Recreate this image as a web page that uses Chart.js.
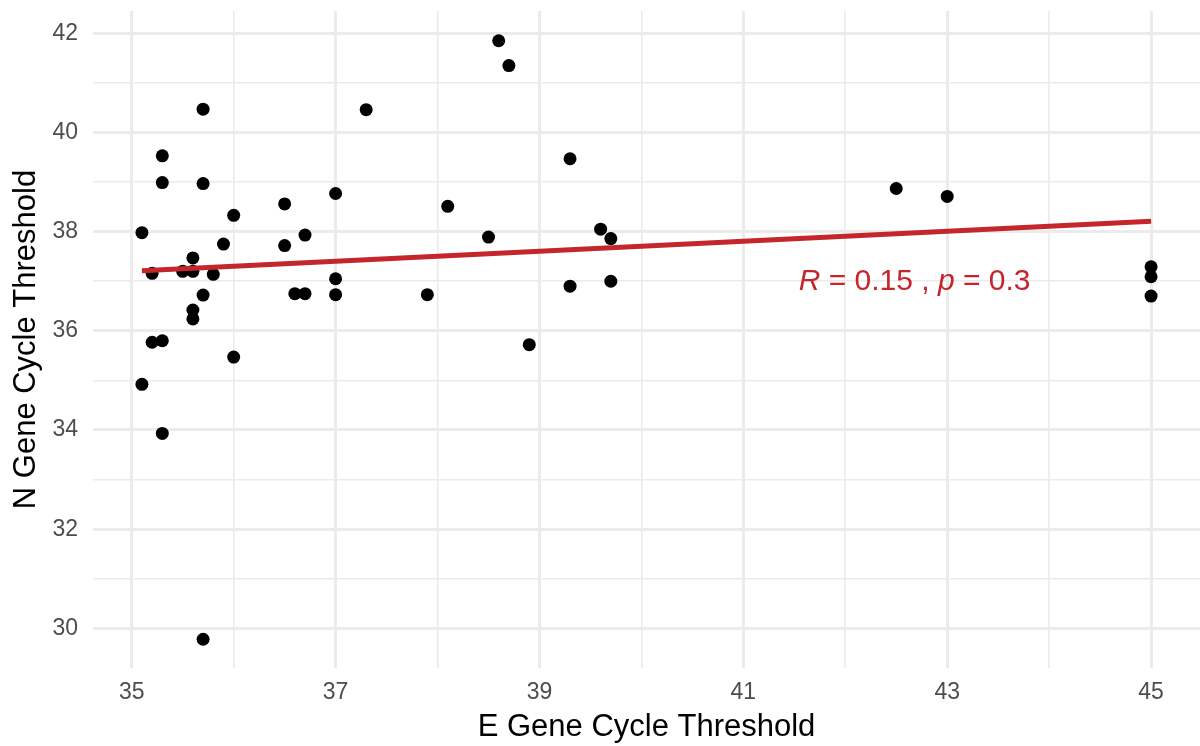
<!DOCTYPE html>
<html>
<head>
<meta charset="utf-8">
<script src="https://cdn.jsdelivr.net/npm/chart.js@4/dist/chart.umd.min.js"></script>
<style>
  html, body { margin: 0; padding: 0; background: #ffffff; }
  #wrap { width: 1200px; height: 746px; }
</style>
</head>
<body>
<div id="wrap"><canvas id="scatter" width="1200" height="746"></canvas></div>
<script>
  // E gene Ct (x) and N gene Ct (y), one entry per sample
  const eCt = [
    35.1, 35.1, 35.2, 35.2, 35.3, 35.3, 35.3, 35.3, 35.5, 35.6,
    35.6, 35.6, 35.6, 35.7, 35.7, 35.7, 35.7, 35.8, 35.9, 36.0,
    36.0, 36.5, 36.5, 36.6, 36.7, 36.7, 37.0, 37.0, 37.0, 37.3,
    37.9, 38.1, 38.5, 38.6, 38.7, 38.9, 39.3, 39.3, 39.6, 39.7,
    39.7, 42.5, 43.0, 45.0, 45.0, 45.0
  ];
  const nCt = [
    34.92, 37.98, 37.16, 35.77, 35.80, 39.53, 38.99, 33.93, 37.20, 37.20,
    37.47, 36.42, 36.24, 40.47, 38.97, 36.72, 29.78, 37.14, 37.75, 38.33,
    35.47, 38.56, 37.72, 36.75, 36.75, 37.93, 38.77, 37.05, 36.73, 40.46,
    36.73, 38.51, 37.89, 41.85, 41.35, 35.72, 39.47, 36.90, 38.05, 37.86,
    37.00, 38.87, 38.71, 37.29, 37.09, 36.70
  ];

  // linear fit at both ends
  const fitX = [35.1, 45.0];
  const fitY = [37.21, 38.21];

  const xGrid = [35, 36, 37, 38, 39, 40, 41, 42, 43, 44, 45];
  const xLabels = [35, 37, 39, 41, 43, 45];
  const yGrid = [30, 31, 32, 33, 34, 35, 36, 37, 38, 39, 40, 41, 42];
  const yLabels = [30, 32, 34, 36, 38, 40, 42];

  const statParts = [
    { text: 'R', italic: true },
    { text: ' = 0.15 , ', italic: false },
    { text: 'p', italic: true },
    { text: ' = 0.3', italic: false }
  ];
  const statAt = { x: 42.68, y: 36.83 };

  const FONT = "'Liberation Sans', Arial, sans-serif";
  const RED = '#C4262C';
  const GRID = '#EBEBEB';

  const points = eCt.map((x, i) => ({ x: x, y: nCt[i] }));
  const fitLine = fitX.map((x, i) => ({ x: x, y: fitY[i] }));

  const statLabel = {
    id: 'statLabel',
    afterDatasetsDraw(chart) {
      const ctx = chart.ctx;
      const px = chart.scales.x.getPixelForValue(statAt.x);
      const py = chart.scales.y.getPixelForValue(statAt.y);
      ctx.save();
      ctx.fillStyle = RED;
      ctx.textBaseline = 'alphabetic';
      ctx.textAlign = 'left';
      let total = 0;
      statParts.forEach(p => {
        ctx.font = (p.italic ? 'italic ' : '') + '30px ' + FONT;
        total += ctx.measureText(p.text).width;
      });
      let cx = px - total / 2;
      statParts.forEach(p => {
        ctx.font = (p.italic ? 'italic ' : '') + '30px ' + FONT;
        ctx.fillText(p.text, cx, py);
        cx += ctx.measureText(p.text).width;
      });
      ctx.restore();
    }
  };

  const ctx = document.getElementById('scatter').getContext('2d');
  new Chart(ctx, {
    type: 'scatter',
    data: {
      datasets: [
        {
          type: 'line',
          label: 'fit',
          data: fitLine,
          borderColor: RED,
          borderWidth: 5,
          pointRadius: 0,
          fill: false,
          order: 0
        },
        {
          label: 'samples',
          data: points,
          backgroundColor: '#000000',
          borderColor: '#000000',
          borderWidth: 0,
          pointRadius: 6.5,
          pointHoverRadius: 6.5,
          order: 1
        }
      ]
    },
    options: {
      responsive: false,
      animation: false,
      devicePixelRatio: 1,
      layout: { autoPadding: false, padding: { top: 11, right: 0, left: 0, bottom: 0 } },
      plugins: {
        legend: { display: false },
        tooltip: { enabled: false }
      },
      scales: {
        x: {
          type: 'linear',
          min: 34.62,
          max: 45.48,
          afterBuildTicks: scale => { scale.ticks = xGrid.map(v => ({ value: v })); },
          afterFit: scale => {
            scale.height = 78;
            scale.paddingLeft = 0;
            scale.paddingRight = 0;
          },
          border: { display: false },
          grid: {
            color: GRID,
            drawTicks: false,
            lineWidth: c => (xLabels.includes(c.tick.value) ? 3 : 1.6)
          },
          ticks: {
            autoSkip: false,
            maxRotation: 0,
            padding: 11,
            color: '#4D4D4D',
            font: { family: FONT, size: 23 },
            callback: v => (xLabels.includes(v) ? String(v) : '')
          },
          title: {
            display: true,
            text: 'E Gene Cycle Threshold',
            color: '#000000',
            font: { family: FONT, size: 31, lineHeight: 1.2 },
            padding: { top: 0, bottom: 0 }
          }
        },
        y: {
          type: 'linear',
          min: 29.2,
          max: 42.45,
          afterBuildTicks: scale => { scale.ticks = yGrid.map(v => ({ value: v })); },
          afterFit: scale => {
            scale.width = 93;
            scale.paddingTop = 0;
            scale.paddingBottom = 0;
          },
          border: { display: false },
          grid: {
            color: GRID,
            drawTicks: false,
            lineWidth: c => (yLabels.includes(c.tick.value) ? 3 : 1.6)
          },
          ticks: {
            autoSkip: false,
            padding: 15,
            color: '#4D4D4D',
            font: { family: FONT, size: 23 },
            callback: v => (yLabels.includes(v) ? String(v) : '')
          },
          title: {
            display: true,
            text: 'N Gene Cycle Threshold',
            color: '#000000',
            font: { family: FONT, size: 31, lineHeight: 1.2 },
            padding: { top: 8, bottom: 0 }
          }
        }
      }
    },
    plugins: [statLabel]
  });
</script>
</body>
</html>
